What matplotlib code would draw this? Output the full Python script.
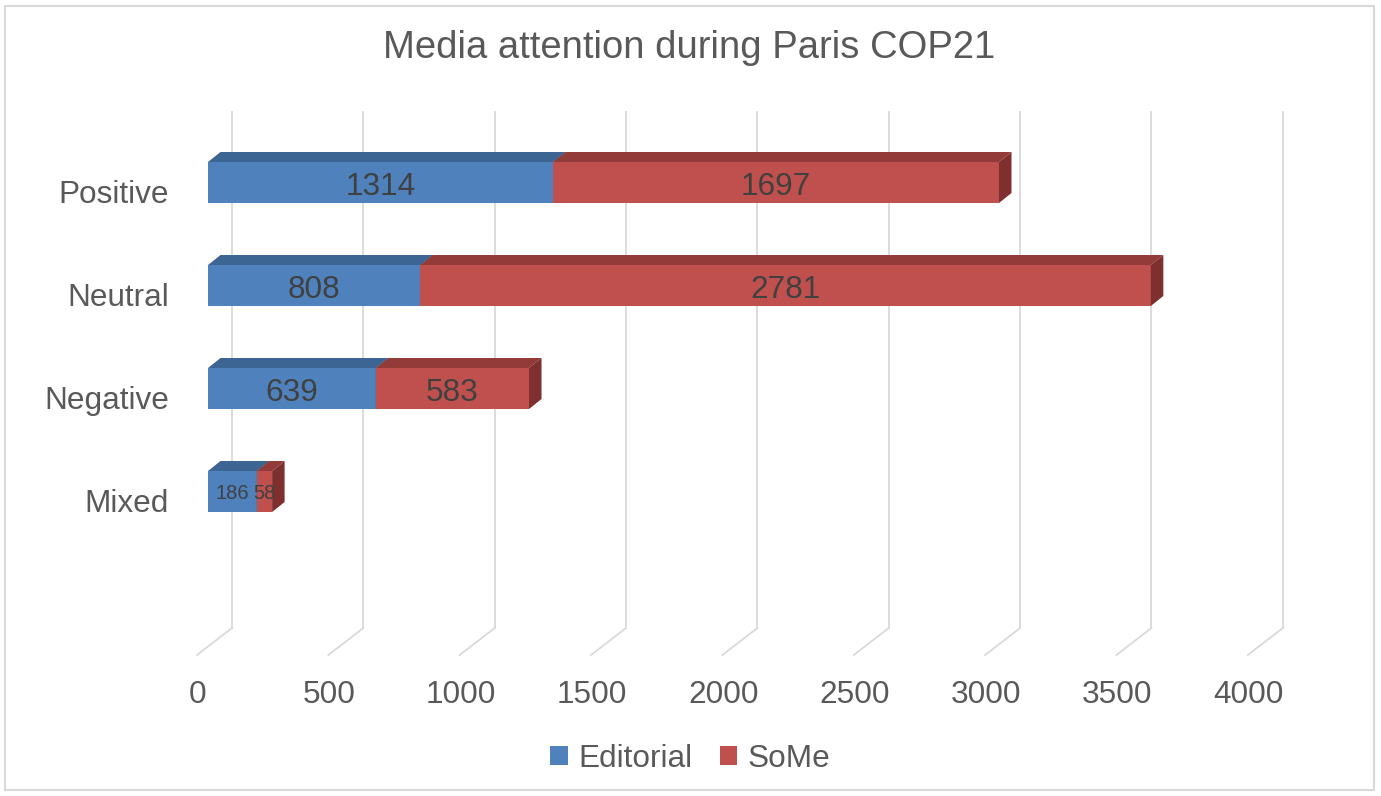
import matplotlib
matplotlib.use("Agg")
import matplotlib.pyplot as plt
from matplotlib.patches import Polygon, Rectangle, Patch

plt.rcParams['font.family'] = ['Liberation Sans', 'DejaVu Sans']

categories = ["Positive", "Neutral", "Negative", "Mixed"]
editorial = [1314, 808, 639, 186]
some = [1697, 2781, 583, 58]
series_names = ["Editorial", "SoMe"]
x_ticks = [0, 500, 1000, 1500, 2000, 2500, 3000, 3500, 4000]

W, H = 1381, 796
fig = plt.figure(figsize=(W / 100, H / 100), dpi=100)
ax = fig.add_axes([0, 0, 1, 1])
ax.set_axis_off()

# pixel layout of the 3-d plot area
ppu = 0.2627          # pixels per value unit along the bars
x0 = 208              # pixel of value 0 on the bar front plane
row0, pitch = 182.5, 103.0
ax.set_xlim(-x0 / ppu, (W - x0) / ppu)
ax.set_ylim((H - row0) / pitch, -row0 / pitch)

def px_x(dx):
    return dx / ppu

def px_y(dy):
    return dy / pitch

# bar depth offset (back face relative to front face)
bdx, bdy = px_x(12.5), px_y(-10)
grid_c = "#D9D9D9"
fs_main = 22.7

# back wall gridlines with floor diagonals
wall_top = px_y(112 - row0)
wall_bot = px_y(628 - row0)
floor_front = px_y(655 - row0)
for v in x_ticks:
    xb = v + px_x(24)
    xf = v + px_x(-11)
    ax.plot([xb, xb], [wall_top, wall_bot], color=grid_c, lw=1.3, zorder=1)
    ax.plot([xb, xf], [wall_bot, floor_front], color=grid_c, lw=1.3, zorder=1)
    ax.text(v + px_x(-10), px_y(703 - row0), f"{v}", ha="center", va="baseline",
            fontsize=fs_main, color="#595959")

faces = {
    "Editorial": ("#4F81BD", "#3D6593", "#345780"),
    "SoMe": ("#C0504D", "#923B39", "#7E302E"),
}

bh = 41 / pitch
for i, (e, s) in enumerate(zip(editorial, some)):
    left = 0
    small = e + s < 500
    for name, val in zip(series_names, (e, s)):
        front, top, side = faces[name]
        right = left + val
        y_top, y_bot = i - bh / 2, i + bh / 2
        ax.barh(i, val, left=left, height=bh, color=front, zorder=3)
        ax.add_patch(Polygon([(left, y_top), (left + bdx, y_top + bdy),
                              (right + bdx, y_top + bdy), (right, y_top)],
                             closed=True, facecolor=top, edgecolor="none", zorder=3))
        ax.add_patch(Polygon([(right, y_top), (right + bdx, y_top + bdy),
                              (right + bdx, y_bot + bdy), (right, y_bot)],
                             closed=True, facecolor=side, edgecolor="none", zorder=3))
        fs = 14.5 if small else fs_main
        ax.text(left + val / 2, i + px_y(8 if small else 12.5), f"{val}", ha="center",
                va="baseline", fontsize=fs, color="#404040", zorder=5)
        left = right
    ax.text(px_x(169 - x0), i + px_y(20.5), categories[i], ha="right", va="baseline",
            fontsize=fs_main, color="#595959")

fig.text(689 / W, 1 - 48 / H, "Media attention during Paris COP21",
         ha="center", va="center", fontsize=27.5, color="#595959")

handles = [Patch(facecolor=faces[n][0], edgecolor="none") for n in series_names]
leg = fig.legend(handles, series_names, loc="center", bbox_to_anchor=(0.5, 1 - 759 / H),
                 ncol=2, frameon=False, fontsize=fs_main, handlelength=0.55,
                 handleheight=0.55, handletextpad=0.35, columnspacing=0.85)
for t in leg.get_texts():
    t.set_color("#595959")

fig.add_artist(Rectangle((5 / W, 6 / H), 1369 / W, 784 / H, transform=fig.transFigure,
                         fill=False, edgecolor=grid_c, lw=1.5))

fig.savefig("out.png", dpi=100)
